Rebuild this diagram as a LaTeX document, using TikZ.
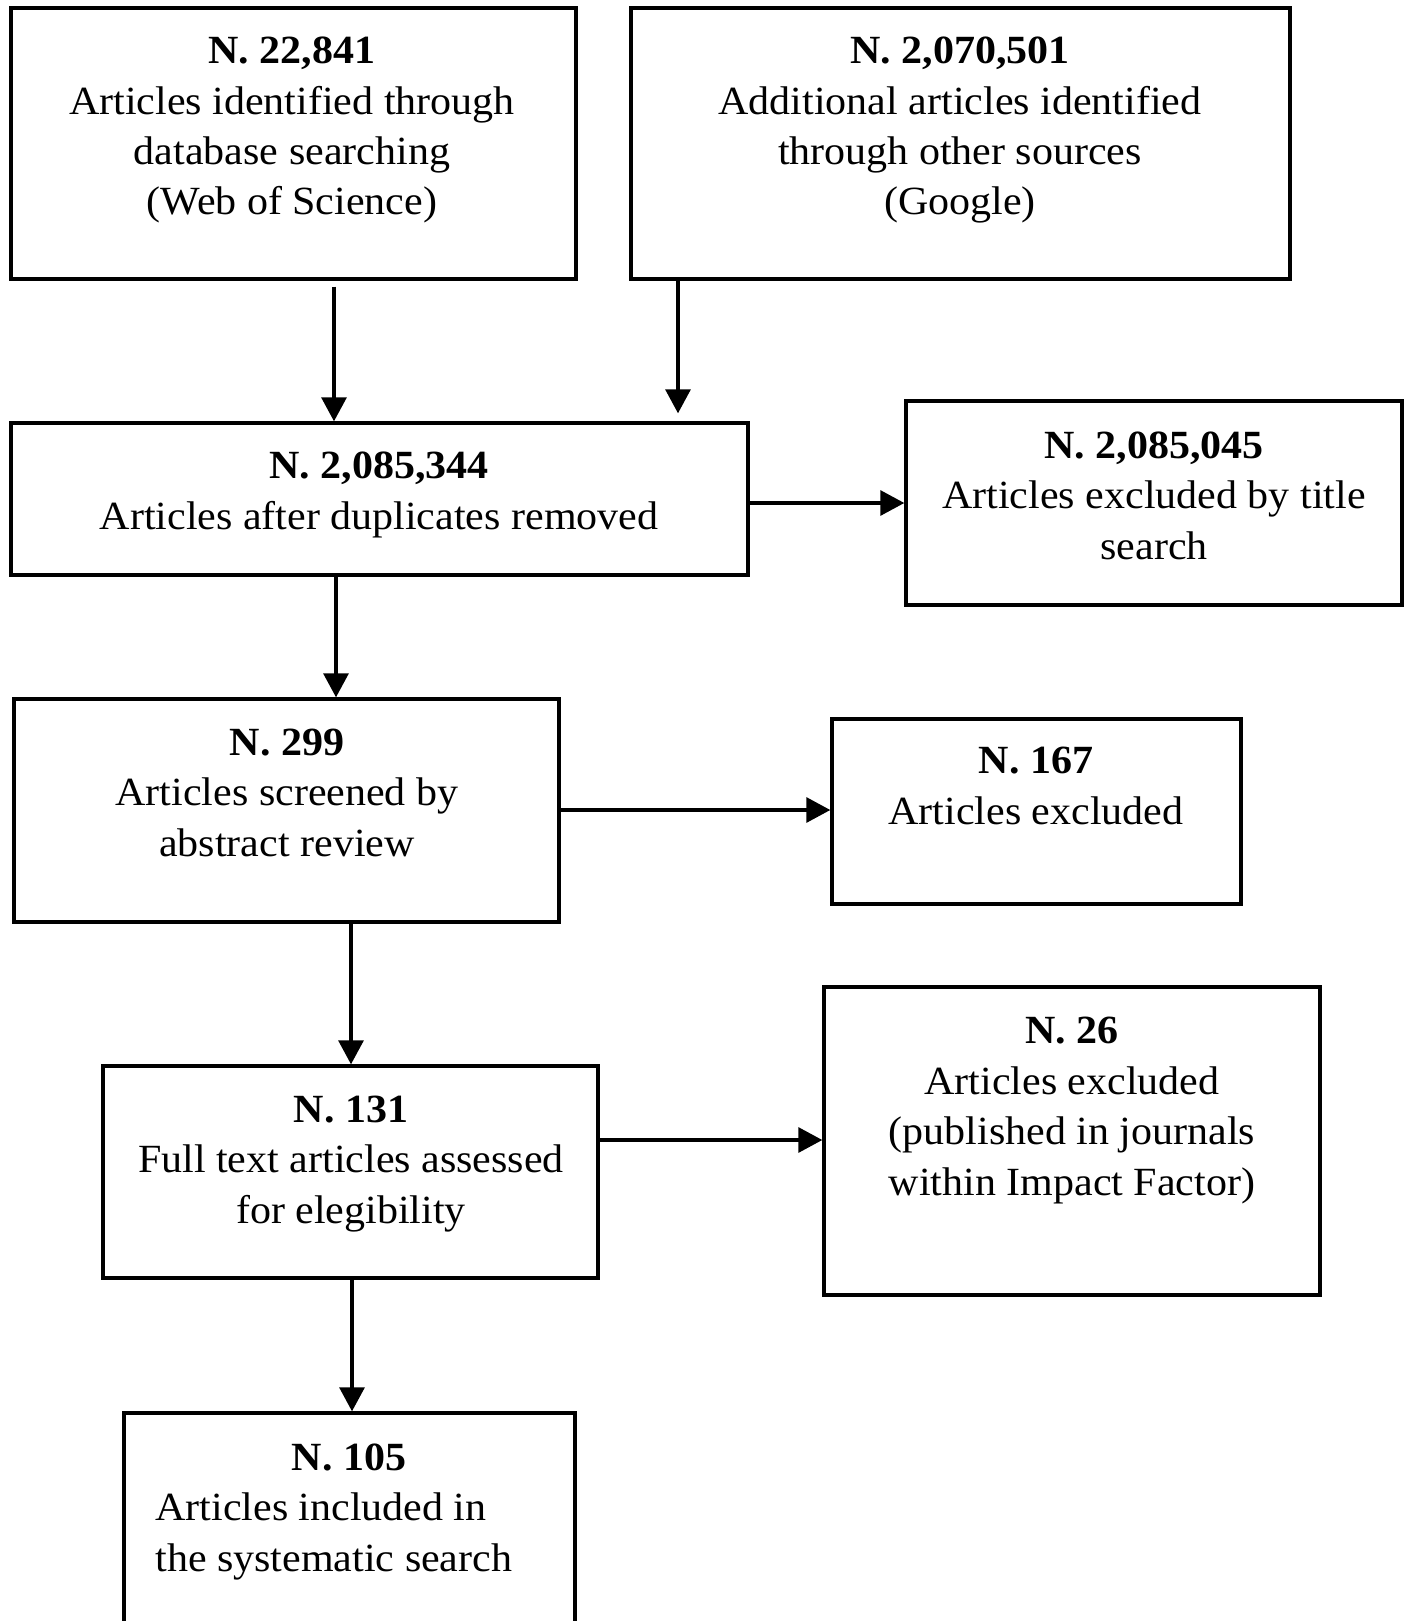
\documentclass[tikz,border=0pt]{standalone}
\usepackage{fontspec}
\setmainfont{Liberation Serif}[FakeStretch=1.05]
\usetikzlibrary{arrows.meta,fit}
\begin{document}
\begin{tikzpicture}[x=0.5pt,y=-0.5pt,
  box/.style={draw=black,line width=1.7pt,inner sep=0pt,rectangle},
  txt/.style={inner sep=0pt,align=center,anchor=base,font=\fontsize{20}{25.2}\selectfont},
  txtl/.style={inner sep=0pt,align=left,anchor=base west,font=\fontsize{20}{25.2}\selectfont},
  arr/.style={line width=1.6pt,-{Triangle[width=12.5pt,length=12pt]}}]
\clip (0,0) rectangle (1406,1621);
\fill[white] (0,0) rectangle (1406,1621);
% boxes
\node[box,fit={(11,8) (576,279)}] (b1) {};
\node[box,fit={(631,8) (1290,279)}] (b2) {};
\node[box,fit={(11,423) (748,575)}] (b3) {};
\node[box,fit={(906,401) (1402,605)}] (b4) {};
\node[box,fit={(14,699) (559,922)}] (b5) {};
\node[box,fit={(832,719) (1241,904)}] (b6) {};
\node[box,fit={(103,1066) (598,1278)}] (b7) {};
\node[box,fit={(824,987) (1320,1295)}] (b8) {};
\node[box,fit={(124,1413) (575,1660)}] (b9) {};
% texts (anchor = baseline of the last line)
\node[txt] (t1) at (292,215) {\textbf{N. 22,841}\\Articles identified through\\database searching\\(Web of Science)};
\node[txt] (t2) at (960,215) {\textbf{N. 2,070,501}\\Additional articles identified\\through other sources\\(Google)};
\node[txt] (t3) at (379,529) {\textbf{N. 2,085,344}\\Articles after duplicates removed};
\node[txt] (t4) at (1154,559) {\textbf{N. 2,085,045}\\Articles excluded by title\\search};
\node[txt] (t5) at (287,856) {\textbf{N. 299}\\Articles screened by\\abstract review};
\node[txt] (t6) at (1036,824) {\textbf{N. 167}\\Articles excluded};
\node[txt] (t7) at (351,1223) {\textbf{N. 131}\\Full text articles assessed\\for elegibility};
\node[txt] (t8) at (1072,1195) {\textbf{N. 26}\\Articles excluded\\(published in journals\\within Impact Factor)};
\node[txt] (t9a) at (349,1470) {\textbf{N. 105}};
\node[txtl] (t9b) at (155,1571) {Articles included in\\the systematic search};
% connectors
\draw[arr,shorten <=3pt] (b1.south -| 334,0) -- (b3.north -| 334,0);
\draw[arr,shorten >=4pt] (b2.south -| 678,0) -- (b3.north -| 678,0);
\draw[arr] (b3.east |- 0,503) -- (b4.west |- 0,503);
\draw[arr] (b3.south -| 336,0) -- (b5.north -| 336,0);
\draw[arr] (b5.east |- 0,810) -- (b6.west |- 0,810);
\draw[arr] (b5.south -| 351,0) -- (b7.north -| 351,0);
\draw[arr] (b7.east |- 0,1140) -- (b8.west |- 0,1140);
\draw[arr] (b7.south -| 352,0) -- (b9.north -| 352,0);
\end{tikzpicture}
\end{document}
